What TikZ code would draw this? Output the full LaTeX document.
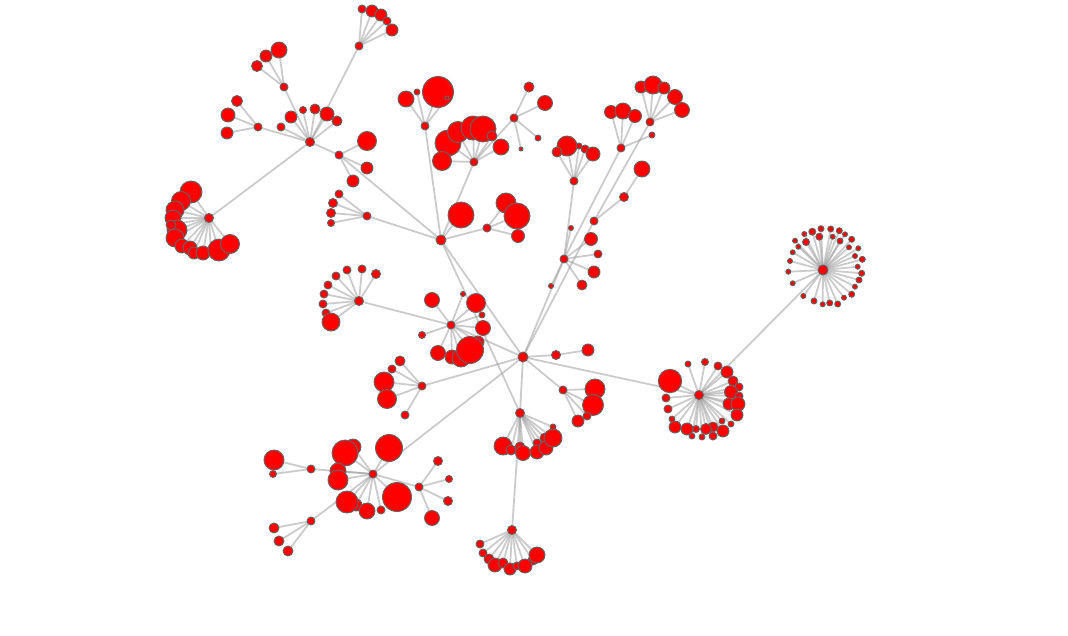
\documentclass[tikz,border=0pt]{standalone}
\usetikzlibrary{backgrounds}
\definecolor{edgec}{RGB}{153,153,153}
\definecolor{nodeb}{RGB}{100,100,100}
\definecolor{nodef}{RGB}{255,0,0}
\tikzset{
  nd/.style={circle,fill=nodef,draw=nodeb,line width=0.9pt,inner sep=0pt,outer sep=0pt},
  lk/.style={draw=edgec,draw opacity=0.5,line width=1.8pt}
}
\def\nodelist{
a/441/240/5/c0,a1/461/215/13/a,
h/339/155/4/a,h1/367/141/9.5/h,h2/367/168/6/h,h3/353/181/6/h,
g/367/216/4/a,g1/339/194/4/g,g2/333/203/4.5/g,g3/331/213/4.5/g,g4/331/223/3.5/g,
b/310/142/4.5/h,b1/303/110/3.5/b,b2/315/109/5/b,b3/327/114/7/b,b4/337/121/5/b,b5/291/117/6/b,b6/281/127/4/b,
ba/258/127/4/b,ba1/237/101/5.5/ba,ba2/228/115/7/ba,ba3/227/133/6/ba,
bc/284/87/4/b,bc1/257/66/5.5/bc,bc2/266/56/6/bc,bc3/279/50/8/bc,
i/359/46/4/b,i1/362/9/4/i,i2/372/11/6/i,i3/381/15/6/i,i4/387/21/4/i,i5/392/30/6/i,
j/209/218/4.5/b,j1/191/192/11/j,j2/181/201/9.5/j,j3/175/210/9/j,j4/173/218/8/j,j6/177/230/10/j,j5/171/225/5/j,j7/175/238/9/j,j8/182/246/7/j,j9/190/248/7/j,j10/194/253/6/j,j11/203/253/7/j,j12/211/253/3/j,j13/219/250/11/j,j14/230/244/9.5/j,
d/425/126/4/a,d1/406/99/8/d,d2/417/92/3/d,d3/438/92/15.5/d,d4/447/98/2/d,
e/474/162/4/a,e1/448/143/13/e,e2/442/161/9.5/e,e5/458/132/10.5/e,e4/473/128/12/e,e3/483/129/13/e,e6/492/136/5/e,e7/501/147/8/e,
k/514/118/4/e,k1/529/87/5/k,k2/545/103/7.5/k,k3/538/138/3/k,k4/521/149/2/k,
f/487/228/4/a,f1/506/203/10/f,f2/517/216/13/f,f3/518/236/6.5/f,
m/564/259/4/c0,m1/591/239/6.5/m,m2/598/254/4/m,m3/594/272/6/m,m4/582/285/5/m,m5/551/286/2.5/m,m6/571/228/2.5/m,
l/574/181/4/m,l1/567/146/10/l,l2/557/152/5/l,l3/579/146/3/l,l4/585/149/4/l,l5/593/154/7/l,
n/621/148/4/m,n1/611/112/6.5/n,n2/623/111/8/n,n3/635/116/6.5/n,n4/652/135/3/n,
p/594/221/4/c0,p1/624/197/4.5/p,p2/642/169/8/p1,
o/650/122/4/p,o1/641/87/6/o,o2/653/85/9/o,o3/664/88/6/o,o4/675/97/7.5/o,o5/682/110/7.5/o,
q/451/325/4/c0,q1/432/300/7.5/q,q2/463/294/2.5/q,q3/476/303/9.5/q,q4/482/315/3/q,q5/483/328/7.5/q,q6/422/335/3.5/q,q7/438/353/7.5/q,q8/452/357/7/q,q9/478/342/6/q,q10/461/358/9/q,q11/470/350/13.5/q,
r/359/301/4.5/q,r1/376/274/4.5/r,r2/362/269/4/r,r3/347/270/4/r,r4/336/276/4/r,r5/328/285/4/r,r6/324/294/4/r,r7/323/304/4/r,r8/326/313/4/r,r9/331/322/9/r,
s/422/386/4/c0,s1/400/361/5/s,s2/392/369/4/s,s3/384/382/10/s,s4/387/399/9.5/s,s5/405/415/4/s,
t/520/413/4.5/c0,t1/503/446/9/t,t2/511/450/5/t,t3/520/447/5/t,t4/523/453/7.5/t,t5/537/443/4/t,t6/545/438/5/t,t7/537/452/7/t,t8/546/448/7/t,t9/553/438/9/t,t10/553/427/3/t,
u/512/530/4.5/t,u1/480/544/4/u,u2/483/553/4/u,u3/489/559/5/u,u4/495/565/7/u,u5/503/563/5/u,u6/510/569/6/u,u7/517/566/4/u,u8/533/560/5/u,u9/525/566/7/u,u10/537/555/8/u,
v/373/474/4/c0,v1/389/448/13.5/v,v2/353/447/8/v,v3/345/453/13/v,v4/338/471/8/v,v5/338/480/10/v,v6/356/505/6/v,v7/347/502/11/v,v8/367/511/8/v,v9/381/510/4/v,v10/397/497/14.5/v,
w/311/469/4/v,w1/274/460/10/w,w2/273/474/3.5/w,
x/311/521/4/v,x1/274/528/5/x,x2/279/541/5/x,x3/288/551/5/x,
y/419/487/4/v,y1/438/461/4.5/y,y2/449/479/3.5/y,y3/448/501/4.5/y,y4/432/518/7.5/y,
c1/556/355/4.5/c0,c2/588/350/6/c1,
z/563/390/4/c0,z1/595/389/10/z,z2/593/405/10.5/z,z3/587/416/4/z,z4/578/421/6/z,
aa/699/395/4.5/c0,aa1/670/381/11.7/aa,aa2/688/364/3/aa,aa3/705/362/3.5/aa,aa4/718/366/4/aa,aa5/727/372/6/aa,aa6/733/381/5/aa,aa7/739/387/4/aa,aa8/731/392/6.5/aa,aa9/739/396/4/aa,aa10/729/404/6/aa,aa11/738/404/7/aa,aa12/737/415/6/aa,aa13/731/424/3/aa,aa14/722/421/3/aa,aa15/723/431/6/aa,aa16/713/427/5/aa,aa17/713/436/4/aa,aa18/706/429/5.5/aa,aa19/702/437/3/aa,aa20/696/429/3.5/aa,aa21/692/436/3/aa,aa22/687/429/6/aa,aa23/675/427/6/aa,aa24/672/419/3/aa,aa25/668/409/4/aa,aa26/666/398/4/aa,
bb/823/270/5/aa,bb1/788.3/271.7/2.5/bb,bb2/790/261/2.5/bb,bb3/792.7/252.3/2.5/bb,bb4/795/240.7/2.5/bb,bb5/798.3/246.7/2.5/bb,bb6/804.3/234/2.5/bb,bb7/806/242/3.5/bb,bb8/812.3/231.7/3.5/bb,bb9/819.3/236.7/3.5/bb,bb10/821/228.7/3/bb,bb11/830.7/229/3/bb,bb12/832.7/236.7/2.5/bb,bb13/839.3/230.7/3/bb,bb14/840/241/3/bb,bb15/845/234.3/2.5/bb,bb16/851.7/239.3/3/bb,bb17/849/247.3/2.5/bb,bb18/858.3/248.3/2.5/bb,bb19/855/256/2.5/bb,bb20/862.3/259.3/3/bb,bb21/857.7/266.7/2.5/bb,bb22/861.7/273.3/3/bb,bb23/859/280/3/bb,bb24/855/286.7/2.5/bb,bb25/851.7/294.3/3/bb,bb26/844/297.7/2.5/bb,bb27/837.7/304/3/bb,bb28/829.7/303/3/bb,bb29/822.7/304.3/2.5/bb,bb30/814/301/3/bb,bb31/803.3/296/2.5/bb,bb32/792.7/283.3/2.5/bb}
\begin{document}
\begin{tikzpicture}[x=1pt,y=-1pt]
\useasboundingbox (0,0) rectangle (1068,635);
\node[nd,minimum size=10pt] (c0) at (523,357) {};
\foreach \n/\x/\y/\r/\p in \nodelist {
  \node[nd,minimum size={2*\r*1pt}] (\n) at (\x,\y) {};
}
\begin{scope}[on background layer]
\fill[white] (0,0) rectangle (1068,635);
\foreach \n/\x/\y/\r/\p in \nodelist {
  \draw[lk] (\p.center) -- (\n.center);
}
\draw[lk] (a.center) -- (t.center);
\end{scope}
\end{tikzpicture}
\end{document}
